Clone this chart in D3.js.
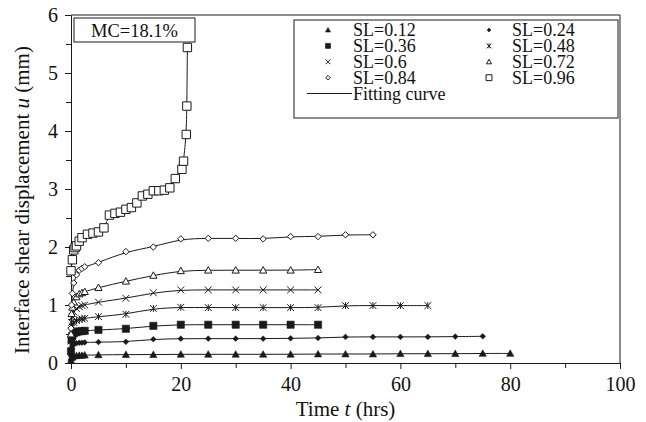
<!DOCTYPE html>
<meta charset="utf-8">
<style>
body { margin: 0; background: #fff; }
svg text { font-family: "Liberation Serif", "Times New Roman", serif; fill: #111; }
</style>
<body>
<script src="https://d3js.org/d3.v7.min.js"></script>
<script>

// series names
var labels = ["SL=0.12", "SL=0.24", "SL=0.36", "SL=0.48", "SL=0.6", "SL=0.72", "SL=0.84", "SL=0.96"];

// elapsed time (hrs) used by the SL 0.12 - 0.84 tests
var tSteps = [0, 0.1, 0.25, 0.5, 1, 1.5, 2, 2.5, 5, 10, 15, 20, 25, 30, 35, 40, 45, 50, 55, 60, 65, 70, 75, 80];

// measured displacement u (mm)
var u012 = [0.04, 0.09, 0.11, 0.12, 0.125, 0.13, 0.13, 0.135, 0.14, 0.145, 0.145, 0.15, 0.15, 0.15, 0.15, 0.15, 0.155, 0.155, 0.155, 0.16, 0.16, 0.16, 0.165, 0.165];
var u024 = [0.12, 0.24, 0.29, 0.32, 0.34, 0.35, 0.35, 0.355, 0.36, 0.365, 0.41, 0.42, 0.42, 0.42, 0.42, 0.425, 0.43, 0.45, 0.45, 0.45, 0.45, 0.455, 0.46];
var u036 = [0.2, 0.4, 0.47, 0.51, 0.53, 0.545, 0.55, 0.555, 0.57, 0.59, 0.64, 0.66, 0.66, 0.66, 0.66, 0.66, 0.66];
var u048 = [0.3, 0.55, 0.64, 0.7, 0.73, 0.75, 0.76, 0.77, 0.8, 0.84, 0.94, 0.96, 0.955, 0.955, 0.955, 0.955, 0.955, 0.99, 0.99, 0.99, 0.99];
var u06  = [0.38, 0.7, 0.8, 0.88, 0.94, 0.97, 0.99, 1.0, 1.05, 1.115, 1.21, 1.26, 1.26, 1.26, 1.26, 1.26, 1.26];
var u072 = [0.5, 0.85, 0.96, 1.05, 1.14, 1.19, 1.21, 1.23, 1.3, 1.41, 1.51, 1.59, 1.6, 1.6, 1.6, 1.6, 1.61];
var u084 = [0.6, 1.0, 1.2, 1.38, 1.52, 1.6, 1.63, 1.66, 1.73, 1.92, 2.0, 2.14, 2.15, 2.15, 2.14, 2.18, 2.18, 2.21, 2.21];

// SL=0.96 failed near 21 hrs, so it has its own time steps
var t096 = [0, 0.25, 0.5, 0.75, 1, 1.5, 2, 3, 4, 5, 6, 7, 8, 9, 10, 11, 12, 13, 14, 15, 16, 17, 18, 19, 20.2, 20.5, 21, 21.1, 21.2];
var u096 = [1.59, 1.78, 1.95, 1.99, 2.02, 2.1, 2.16, 2.22, 2.24, 2.26, 2.33, 2.55, 2.58, 2.6, 2.65, 2.68, 2.76, 2.88, 2.91, 2.97, 2.97, 2.98, 3.02, 3.18, 3.34, 3.48, 3.94, 4.43, 5.44];

var xTicks = [0, 20, 40, 60, 80, 100];
var yTicks = [0, 1, 2, 3, 4, 5, 6];

var width = 646, height = 422;

var x = d3.scaleLinear().domain([0, 100]).range([71, 620]);
var y = d3.scaleLinear().domain([0, 6]).range([363, 15]);

var svg = d3.select("body").append("svg")
    .attr("width", width)
    .attr("height", height);

var ink = "#1a1a1a";

// build series
var uAll = [u012, u024, u036, u048, u06, u072, u084];
var series = uAll.map(function(u, i) {
  return { name: labels[i], pts: u.map(function(v, j) { return [tSteps[j], v]; }) };
});
series.push({ name: labels[7], pts: u096.map(function(v, j) { return [t096[j], v]; }) });

// marker styles
var mType = ["tri", "dia", "sq", "star", "x", "tri", "dia", "sq"];
var mFill = [true, true, true, false, false, false, false, false];
var mSize = [3.6, 2.8, 3.6, 3.4, 3.4, 3.6, 3.2, 4.2];

function markerPath(type, r) {
  switch (type) {
    case "tri": return "M0," + (-r) + "L" + r + "," + (r * 0.8) + "L" + (-r) + "," + (r * 0.8) + "Z";
    case "dia": return "M0," + (-r) + "L" + r + ",0L0," + r + "L" + (-r) + ",0Z";
    case "sq": return "M" + (-r) + "," + (-r) + "H" + r + "V" + r + "H" + (-r) + "Z";
    case "x": return "M" + (-r) + "," + (-r) + "L" + r + "," + r + "M" + (-r) + "," + r + "L" + r + "," + (-r);
    case "star": return "M" + (-r) + "," + (-r) + "L" + r + "," + r + "M" + (-r) + "," + r + "L" + r + "," + (-r) + "M0," + (-r) + "V" + r;
  }
}

function styleMarker(sel, i) {
  sel.attr("fill", mFill[i] ? ink : (mType[i] == "x" || mType[i] == "star" ? "none" : "#fff"))
     .attr("stroke", ink)
     .attr("stroke-width", mFill[i] ? 0.6 : 1);
}

// axes
svg.append("g")
    .attr("transform", "translate(0,363)")
    .call(d3.axisBottom(x).tickValues(xTicks).tickFormat(d3.format("d"))
      .tickSize(6).tickSizeOuter(0).tickPadding(8));
svg.append("g")
    .attr("transform", "translate(0,363)")
    .call(d3.axisBottom(x).tickValues([10, 30, 50, 70, 90]).tickSize(5).tickSizeOuter(0).tickFormat(""))
    .select(".domain").remove();

svg.append("g")
    .attr("transform", "translate(71,0)")
    .call(d3.axisLeft(y).tickValues(yTicks).tickFormat(d3.format("d"))
      .tickSize(6).tickSizeOuter(0).tickPadding(7));
svg.append("g")
    .attr("transform", "translate(71,0)")
    .call(d3.axisLeft(y).tickValues([0.5, 1.5, 2.5, 3.5, 4.5, 5.5]).tickSize(5).tickSizeOuter(0).tickFormat(""))
    .select(".domain").remove();

svg.selectAll(".tick text").attr("font-size", 20).attr("fill", ink);
svg.selectAll(".domain, .tick line").attr("stroke", ink);

// top and right frame
svg.append("line").attr("x1", 71).attr("x2", 620).attr("y1", 15).attr("y2", 15).attr("stroke", ink);
svg.append("line").attr("x1", 620).attr("x2", 620).attr("y1", 15).attr("y2", 363).attr("stroke", ink);

// fitting curves
var line = d3.line()
    .x(function(d) { return x(d[0]); })
    .y(function(d) { return y(d[1]); })
    .curve(d3.curveBasis);

svg.append("g").selectAll("path.fit")
  .data(series)
  .enter().append("path")
    .attr("class", "fit")
    .attr("d", function(d) { return line(d.pts); })
    .attr("fill", "none")
    .attr("stroke", ink)
    .attr("stroke-width", 1);

// data markers
series.forEach(function(s, i) {
  svg.append("g").selectAll("path")
    .data(s.pts)
    .enter().append("path")
      .attr("transform", function(d) { return "translate(" + x(d[0]) + "," + y(d[1]) + ")"; })
      .attr("d", markerPath(mType[i], mSize[i]))
      .call(styleMarker, i);
});

// axis titles
var xt = svg.append("text")
    .attr("x", 345.5).attr("y", 416)
    .attr("text-anchor", "middle")
    .attr("font-size", 21);
xt.append("tspan").text("Time ");
xt.append("tspan").attr("font-style", "italic").text("t");
xt.append("tspan").text(" (hrs)");

var yt = svg.append("text")
    .attr("transform", "translate(29,200) rotate(-90)")
    .attr("text-anchor", "middle")
    .attr("font-size", 21);
yt.append("tspan").text("Interface shear displacement ");
yt.append("tspan").attr("font-style", "italic").text("u");
yt.append("tspan").text(" (mm)");

// MC label box
svg.append("rect")
    .attr("x", 74).attr("y", 18).attr("width", 121).attr("height", 24)
    .attr("fill", "#fff").attr("stroke", ink);
svg.append("text")
    .attr("x", 134.5).attr("y", 37)
    .attr("text-anchor", "middle")
    .attr("font-size", 18.5)
    .text("MC=18.1%");

// legend
var lg = svg.append("g");
lg.append("rect")
    .attr("x", 294).attr("y", 20).attr("width", 324).attr("height", 98)
    .attr("fill", "#fff").attr("stroke", ink);

labels.forEach(function(name, i) {
  var col = i % 2, row = Math.floor(i / 2);
  var base = 36 + row * 15.9;
  var sx = col == 0 ? 328 : 489;
  var tx = col == 0 ? 353 : 512;
  lg.append("path")
    .attr("transform", "translate(" + sx + "," + (base - 6) + ")")
    .attr("d", markerPath(mType[i], mSize[i] * 0.7))
    .call(styleMarker, i);
  lg.append("text")
    .attr("x", tx).attr("y", base)
    .attr("font-size", 18)
    .text(name);
});
lg.append("line")
    .attr("x1", 307).attr("x2", 352).attr("y1", 93.5).attr("y2", 93.5)
    .attr("stroke", ink);
lg.append("text")
    .attr("x", 353).attr("y", 99.6)
    .attr("font-size", 18)
    .text("Fitting curve");

</script>
</body>
</html>
